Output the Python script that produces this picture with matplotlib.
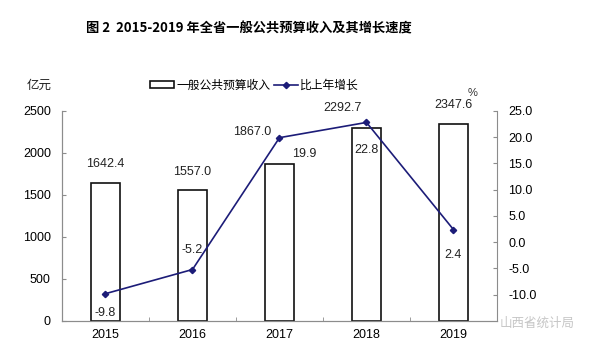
import numpy as np
import matplotlib
matplotlib.use("Agg")
import matplotlib.pyplot as plt
from matplotlib.patches import Patch
from matplotlib.lines import Line2D

plt.rcParams["font.family"] = ["Liberation Sans", "Noto Sans CJK SC", "DejaVu Sans"]

years = ["2015", "2016", "2017", "2018", "2019"]
revenue = [1642.4, 1557.0, 1867.0, 2292.7, 2347.6]
growth = [-9.8, -5.2, 19.9, 22.8, 2.4]

# label offsets in points (dx, dy) for the value labels
bar_label_off = [(0, 9), (0, 9), (-20, 19), (-17, 10), (0, 9)]
line_label_off = [(0, -14), (0, 14), (18, -12), (0, -20), (0, -18)]

navy = "#1c1c78"
gray = "#8c8c8c"

fig = plt.figure(figsize=(5.92, 3.5), dpi=100)
ax = fig.add_axes([0.1047, 0.0829, 0.7348, 0.6003])
ax2 = ax.twinx()

x = np.arange(len(years))
ax.bar(x, revenue, width=0.33, facecolor="white", edgecolor="#111111", linewidth=1.2)
ax.set_xlim(-0.5, len(years) - 0.5)
ax.set_ylim(0, 2500)
ax.set_yticks(range(0, 2501, 500))
ax.set_xticks(x)
ax.set_xticklabels(years)
ax.set_xticks(np.arange(0.5, len(years) - 0.5), minor=True)
ax.tick_params(axis="x", which="major", length=0, labelsize=9, pad=6)
ax.tick_params(axis="x", which="minor", direction="in", length=3, color=gray)
ax.tick_params(axis="y", direction="in", length=3, color=gray, labelsize=9, pad=8)

ax2.plot(x, growth, color=navy, linewidth=1.2, marker="D", markersize=3.2)
ax2.set_ylim(-15, 25)
ax2.set_yticks(np.arange(-10, 26, 5))
ax2.set_yticklabels([f"{v:.1f}" for v in np.arange(-10, 26, 5)])
ax2.tick_params(axis="y", direction="in", length=3, color=gray, labelsize=9, pad=8)

for a in (ax, ax2):
    a.spines["top"].set_visible(False)
    for s in ("left", "right", "bottom"):
        a.spines[s].set_color(gray)
        a.spines[s].set_linewidth(0.8)
ax.spines["right"].set_visible(False)

for i, v in enumerate(revenue):
    ax.annotate(f"{v:.1f}", (x[i], v), xytext=bar_label_off[i], textcoords="offset points",
                ha="center", va="bottom", fontsize=9, color="#222222")
for i, v in enumerate(growth):
    ax2.annotate(f"{v:.1f}", (x[i], v), xytext=line_label_off[i], textcoords="offset points",
                 ha="center", va="center", fontsize=9, color="#222222")

fig.text(0.42, 0.92, "图 2  2015-2019 年全省一般公共预算收入及其增长速度",
         ha="center", va="center", fontsize=9.5, fontweight="bold",
         family=["Noto Sans CJK SC", "DejaVu Sans"])
fig.text(0.045, 0.755, "亿元", ha="left", va="center", fontsize=9,
         family=["Noto Sans CJK SC", "DejaVu Sans"], color="#222222")
fig.text(0.79, 0.735, "%", ha="left", va="center", fontsize=8, color="#333333")

handles = [Patch(facecolor="white", edgecolor="#111111", linewidth=1.2),
           Line2D([0], [0], color=navy, linewidth=1.2, marker="D", markersize=3.2)]
fig.legend(handles, ["一般公共预算收入", "比上年增长"], loc="center", ncol=2,
           bbox_to_anchor=(0.43, 0.757), frameon=False, handlelength=2.0,
           handleheight=0.6, handletextpad=0.2, columnspacing=0.3,
           prop={"family": ["Noto Sans CJK SC", "DejaVu Sans"], "size": 8.5})

fig.text(0.97, 0.075, "山西省统计局", ha="right", va="center", fontsize=9,
         family=["Noto Sans CJK SC", "DejaVu Sans"], color="#b8b8b8", alpha=0.8)

fig.savefig("out.png", dpi=100)
